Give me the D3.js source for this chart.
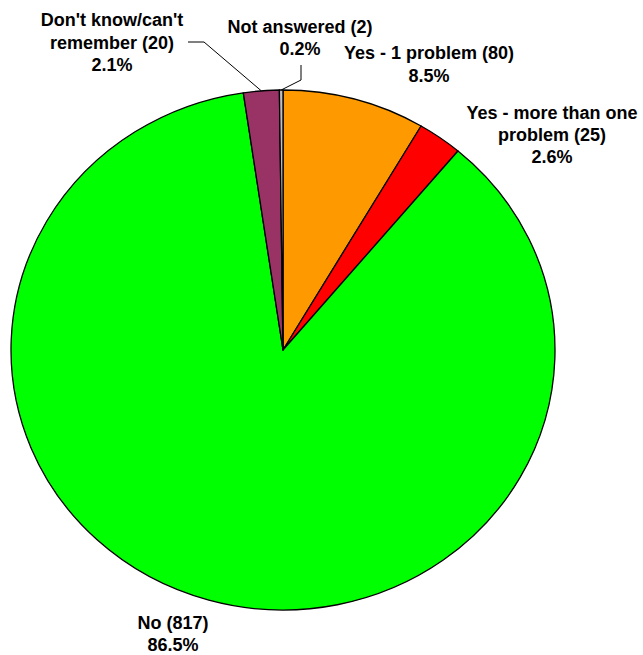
<!DOCTYPE html>
<html>
<head>
<meta charset="utf-8">
<script src="https://cdn.jsdelivr.net/npm/d3@7"></script>
<style>
  html, body { margin: 0; padding: 0; background: #fff; }
  svg text { font-family: "Liberation Sans", Arial, sans-serif; font-weight: bold; fill: #000; }
</style>
</head>
<body>
<svg id="chart" width="643" height="655"></svg>
<script>
// ---- data ----
const categories = ["Yes - 1 problem", "Yes - more than one problem", "No", "Don't know/can't remember", "Not answered"];
const values = [80, 25, 817, 20, 2];
const colors = ["#FF9900", "#FF0000", "#00FF00", "#993366", "#C0C0C0"];
const labelLines = [
  ["Yes - 1 problem (80)"],
  ["Yes - more than one", "problem (25)"],
  ["No (817)"],
  ["Don't know/can't", "remember (20)"],
  ["Not answered (2)"]
];

// ---- layout ----
const W = 643, H = 655;
const cx = 283, cy = 350, rx = 272, ry = 260;
const fontSize = 18, lineH = 22.5;
// label anchors: centre x, first baseline y, line height; leader elbow points
const labelLayout = [
  { x: 429, y: 59, lh: 23, leader: null },
  { x: 552, y: 119, lh: 22, leader: null },
  { x: 173, y: 629, lh: 21.5, leader: null },
  { x: 112, y: 26, lh: 22.5, leader: [[188, 42], [204, 42]] },
  { x: 300, y: 33, lh: 22, leader: [[301, 65], [301, 80]] }
];

const svg = d3.select("#chart");
const total = d3.sum(values);
const data = categories.map((c, i) => ({ cat: c, value: values[i], color: colors[i], lines: labelLines[i], i }));

const pie = d3.pie().value(d => d.value).sort(null).startAngle(0).endAngle(2 * Math.PI);
const arcs = pie(data);
const arc = d3.arc().innerRadius(0).outerRadius(ry);

const g = svg.append("g").attr("transform", `translate(${cx},${cy}) scale(${rx / ry},1)`);
g.selectAll("path")
  .data(arcs)
  .enter().append("path")
  .attr("d", arc)
  .attr("fill", d => d.data.color)
  .attr("stroke", "#000")
  .attr("stroke-width", 1.3)
  .attr("stroke-linejoin", "round")
  .attr("vector-effect", "non-scaling-stroke");

// edge point of slice mid-angle on the ellipse
function edgePoint(a) {
  const m = (a.startAngle + a.endAngle) / 2;
  return [cx + rx * Math.sin(m), cy - ry * Math.cos(m)];
}

// leaders
arcs.forEach((a, i) => {
  const L = labelLayout[i];
  if (!L.leader) return;
  const pts = L.leader.concat([edgePoint(a)]);
  svg.append("path")
    .attr("d", d3.line()(pts))
    .attr("fill", "none")
    .attr("stroke", "#000")
    .attr("stroke-width", 1);
});

// labels
arcs.forEach((a, i) => {
  const L = labelLayout[i];
  const pct = (a.data.value / total * 100).toFixed(1) + "%";
  const lines = a.data.lines.concat([pct]);
  const t = svg.append("text")
    .attr("text-anchor", "middle")
    .attr("font-size", fontSize);
  lines.forEach((ln, k) => {
    t.append("tspan").attr("x", L.x).attr("y", L.y + k * L.lh).text(ln);
  });
});
</script>
</body>
</html>
